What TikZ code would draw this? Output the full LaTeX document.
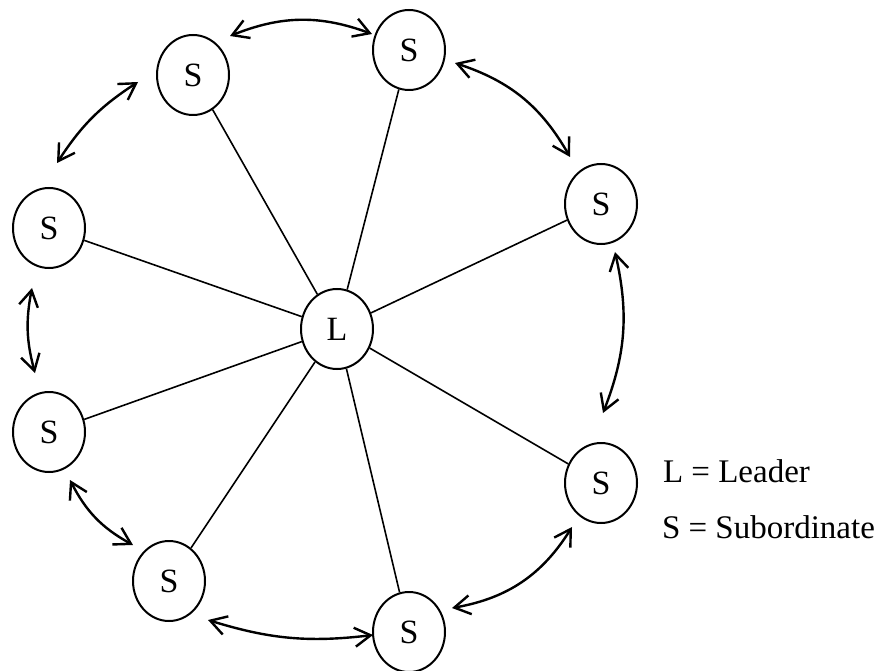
\documentclass[tikz,border=0pt]{standalone}
\usepackage{fontspec}
\setmainfont{Liberation Serif}
\usetikzlibrary{shapes.geometric,arrows.meta}

\begin{document}
\begin{tikzpicture}
  [x=1pt,y=1pt,
   every node/.style={ellipse,draw,line width=2pt,minimum width=72pt,minimum height=80pt,inner sep=0pt,font=\fontsize{34}{40}\selectfont},
   legend/.style={rectangle,draw=none,minimum width=0pt,minimum height=0pt,anchor=base west,font=\fontsize{33}{40}\selectfont},
   spoke/.style={line width=1.6pt},
   ring/.style={<->,line width=2.4pt,>={Straight Barb[length=16pt,width=19pt]}}]
  \useasboundingbox (0,0) rectangle (890,670);

  \node (l) at (337,341) {L};
  \node (s1) at (193,595) {S};
  \node (s2) at (409,620) {S};
  \node (s3) at (601,466) {S};
  \node (s4) at (601,187) {S};
  \node (s5) at (409,38) {S};
  \node (s6) at (169,89) {S};
  \node (s7) at (49,238) {S};
  \node (s8) at (49,442) {S};

  \node[legend] (leg1) at (662,188) {L = Leader};
  \node[legend] (leg2) at (661,132) {S = Subordinate};

 \path[draw,spoke]
        (l) edge (s1)
        (l) edge (s2)
        (l) edge (s3)
        (l) edge (s4)
        (l) edge (s5)
        (l) edge (s6)
        (l) edge (s7)
        (l) edge (s8);

 \path[ring]
        ([shift={(37,39)}]s1.center) edge[bend left=21] ([shift={(-37,16)}]s2.center)
        ([shift={(46,-13)}]s2.center) edge[bend left=21] ([shift={(-31,47)}]s3.center)
        ([shift={(14,-48)}]s3.center) edge[bend left=17] ([shift={(2,70)}]s4.center)
        ([shift={(-29,-44)}]s4.center) edge[bend left=24] ([shift={(43,24)}]s5.center)
        ([shift={(-36,-3)}]s5.center) edge[bend left=12] ([shift={(39,-39)}]s6.center)
        ([shift={(-36,36)}]s6.center) edge[bend left=17] ([shift={(21,-48)}]s7.center)
        ([shift={(-14,59)}]s7.center) edge[bend left=13] ([shift={(-17,-60)}]s8.center)
        ([shift={(8,65)}]s8.center) edge[bend left=12] ([shift={(-55,-7)}]s1.center);

\end{tikzpicture}
\end{document}
